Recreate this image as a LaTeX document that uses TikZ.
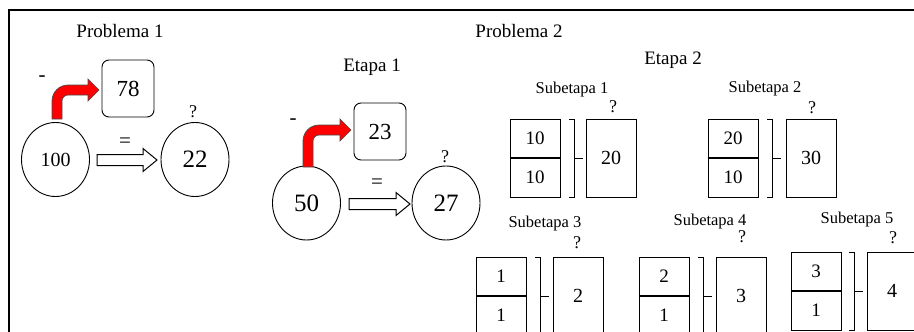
\documentclass[tikz,border=0pt]{standalone}
\usepackage{fontspec}
\setmainfont{Liberation Serif}
\begin{document}
\begin{tikzpicture}[x=1pt,y=1pt,
  title/.style={font=\fontsize{19}{19}\selectfont, inner sep=0pt},
  subtitle/.style={font=\fontsize{16.5}{16.5}\selectfont, inner sep=0pt},
  qmark/.style={font=\fontsize{18}{18}\selectfont, inner sep=0pt},
  sign/.style={font=\fontsize{21}{21}\selectfont, inner sep=0pt},
  valcircle/.style={draw, ellipse, line width=0.9pt, minimum width=68pt, minimum height=74pt, inner sep=0pt},
  valbox/.style={draw, rounded corners=7pt, line width=0.9pt, minimum width=52pt, minimum height=57pt, inner sep=0pt, font=\fontsize{23}{23}\selectfont},
  cell/.style={draw, line width=0.8pt, minimum width=50pt, minimum height=39pt, inner sep=0pt, font=\fontsize{19}{19}\selectfont},
  tallbox/.style={draw, line width=0.8pt, minimum width=50pt, minimum height=78pt, inner sep=0pt, font=\fontsize{20}{20}\selectfont},
  bracket/.style={line width=0.8pt},
  divider/.style={line width=2pt},
  redarrow/.style={fill=red, draw=black!70, line width=0.7pt},
  hollow/.style={fill=white, draw=black, line width=1pt}
]
\usetikzlibrary{shapes.geometric}
\useasboundingbox (0,0) rectangle (914,-332);
\clip (0,0) rectangle (914,-332);
\fill[white] (0,0) rectangle (914,-332);

% frame
\draw[line width=1.6pt] (9,-340) -- (9,-10) -- (920,-10);

% red arrow macro: bottom-left of stem (a,b), tip (c,d)
\newcommand{\myredarrow}[4]{%
  \path[redarrow] (#1,-#2) -- (#1,{-(#4-5+16)}) arc[start angle=180, end angle=90, radius=16]
    -- ({#3-11},{-(#4-5)}) -- ({#3-11},{-(#4-11)}) -- (#3,-#4) -- ({#3-11},{-(#4+11)})
    -- ({#3-11},{-(#4+5)}) -- ({#1+16},{-(#4+5)}) arc[start angle=90, end angle=180, radius=6]
    -- ({#1+10},-#2) -- cycle;}
% hollow arrow macro: start x, tip x, center y
\newcommand{\myhollowarrow}[3]{%
  \path[hollow] (#1,{-(#3-5.5)}) -- ({#2-14},{-(#3-5.5)}) -- ({#2-14},{-(#3-11.5)}) -- (#2,-#3)
    -- ({#2-14},{-(#3+11.5)}) -- ({#2-14},{-(#3+5.5)}) -- (#1,{-(#3+5.5)}) -- cycle;}

% ---------- Problema 1 ----------
\node[title] (p1) at (120,-31) {Problema 1};
\node[valbox] (b78) at (128,-88.5) {78};
\node[valcircle, font=\fontsize{20}{20}\selectfont] (c100) at (55.5,-159.5) {100};
\node[valcircle, font=\fontsize{25}{25}\selectfont] (c22) at (195,-159.5) {22};
\node[qmark] (q1) at (193,-112) {?};
\node[sign] (m1) at (42,-79) {-};
\node[sign] (e1) at (125,-143) {=};
\myredarrow{52}{119}{99}{90}
\myhollowarrow{97}{157}{160}

% ---------- Problema 2 ----------
\node[title] (p2) at (519,-31) {Problema 2};
\node[title] (et1) at (372,-67) {Etapa 1};
\node[title] (et2) at (673,-60) {Etapa 2};

\node[valbox] (b23) at (380,-131.5) {23};
\node[valcircle, font=\fontsize{25}{25}\selectfont] (c50) at (306.5,-203) {50};
\node[valcircle, font=\fontsize{25}{25}\selectfont] (c27) at (446,-203) {27};
\node[qmark] (q2) at (445,-157) {?};
\node[sign] (m2) at (293,-122) {-};
\node[sign] (e2) at (377,-184) {=};
\myredarrow{303}{167}{351}{130}
\myhollowarrow{349}{410}{204}

% subetapa macro: #1 name, #2 left x, #3 top y, #4 top num, #5 bottom num, #6 bracket x, #7 right box left x, #8 result
\newcommand{\mysub}[8]{%
  \node[cell] (#1a) at ({#2+25},{-(#3+19.5)}) {#4};
  \node[cell] (#1b) at ({#2+25},{-(#3+58.5)}) {#5};
  \draw[divider] (#1a.south west) -- (#1a.south east);
  \draw[bracket] ({#6-5},-#3) -- (#6,-#3) -- (#6,{-(#3+78)}) -- ({#6-5},{-(#3+78)});
  \coordinate (#1k) at (#6,{-(#3+39)});
  \coordinate (#1t) at ({#6+9},{-(#3+39)});
  \draw[bracket] (#1k) -- (#1t);
  \node[tallbox] (#1r) at ({#7+25},{-(#3+39)}) {#8};}

\node[subtitle] (st1) at (572,-90) {Subetapa 1};
\node[qmark] (qs1) at (613,-107) {?};
\mysub{s1}{510}{119}{10}{10}{574}{586}{20}

\node[subtitle] (st2) at (765,-89) {Subetapa 2};
\node[qmark] (qs2) at (812,-108) {?};
\mysub{s2}{708}{119}{20}{10}{772}{786}{30}

\node[subtitle] (st3) at (545,-224) {Subetapa 3};
\node[qmark] (qs3) at (577,-243) {?};
\mysub{s3}{476}{257}{1}{1}{540}{553}{2}

\node[subtitle] (st4) at (710,-222) {Subetapa 4};
\node[qmark] (qs4) at (742,-237) {?};
\mysub{s4}{639}{257}{2}{1}{703}{716}{3}

\node[subtitle] (st5) at (857,-220) {Subetapa 5};
\node[qmark] (qs5) at (893,-238) {?};
\mysub{s5}{791}{252}{3}{1}{854}{867}{4}
\end{tikzpicture}
\end{document}
